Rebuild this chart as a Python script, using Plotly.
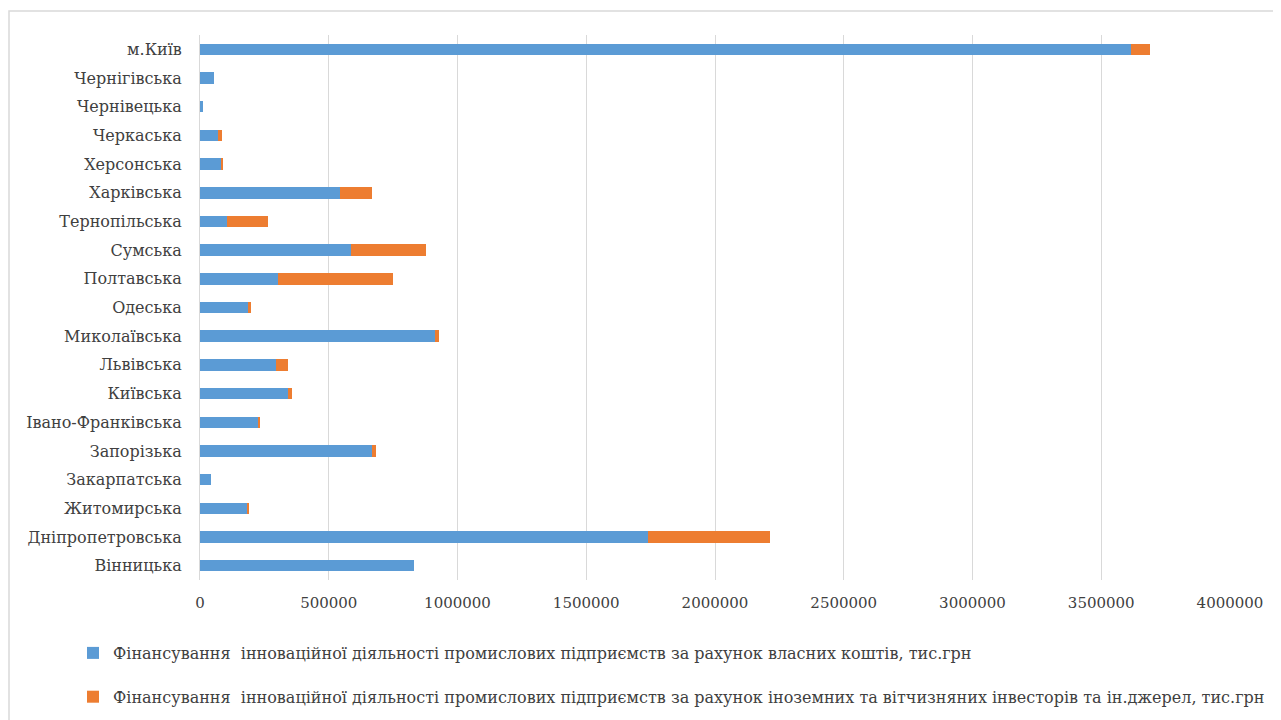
import plotly.graph_objects as go

regions = ["Вінницька", "Дніпропетровська", "Житомирська", "Закарпатська", "Запорізька",
           "Івано-Франківська", "Київська", "Львівська", "Миколаївська", "Одеська",
           "Полтавська", "Сумська", "Тернопільська", "Харківська", "Херсонська",
           "Черкаська", "Чернівецька", "Чернігівська", "м.Київ"]

own_funds = [831000, 1740000, 186000, 43000, 667000,
             229000, 341000, 295000, 911000, 186000,
             302000, 585000, 105000, 543000, 85000,
             70000, 12000, 54000, 3616000]

other_funds = [0, 473000, 4000, 0, 15000,
               4000, 15000, 46000, 19000, 12000,
               446000, 291000, 159000, 124000, 2000,
               16000, 0, 0, 74000]

name_own = "Фінансування  інноваційної діяльності промислових підприємств за рахунок власних коштів, тис.грн"
name_other = "Фінансування  інноваційної діяльності промислових підприємств за рахунок іноземних та вітчизняних інвесторів та ін.джерел, тис.грн"

x_ticks = [0, 500000, 1000000, 1500000, 2000000, 2500000, 3000000, 3500000, 4000000]

SERIF = "DejaVu Serif"

fig = go.Figure()
fig.add_trace(go.Bar(y=regions, x=own_funds, orientation="h", name=name_own,
                     marker=dict(color="#5B9BD5", line=dict(width=0)),
                     legendgroup="a", width=0.4))
fig.add_trace(go.Bar(y=regions, x=other_funds, orientation="h", name=name_other,
                     marker=dict(color="#ED7D31", line=dict(width=0)),
                     legendgroup="b", width=0.4))

# page offset (body margin) compensation
O = 8
SW, SH = 1281, 720
W, H = SW - O, SH - O
# desired plot area in screen px
PL, PR, PT, PB = 200, 1230, 35, 580
L, T = PL - O, PT - O
R, B = SW - PR, SH - PB
pw, ph = PR - PL, PB - PT

def px_x(p):
    return (p - PL) / pw

def px_y(p):
    return (PB - p) / ph

fig.update_layout(
    width=W, height=H,
    barmode="stack",
    plot_bgcolor="white", paper_bgcolor="white",
    margin=dict(l=L, r=R, t=T, b=B, autoexpand=False),
    font=dict(family=SERIF, color="#404040"),
    xaxis=dict(range=[0, 4000000], tickvals=x_ticks, tickformat="d",
               showgrid=True, gridcolor="#d9d9d9", gridwidth=1,
               zeroline=False, showline=False, ticks="",
               tickfont=dict(size=15, family=SERIF, color="#404040"),
               ticklabelstandoff=12),
    yaxis=dict(showgrid=False, showline=True, linecolor="#d9d9d9", linewidth=1,
               ticks="", tickfont=dict(size=16, family=SERIF, color="#404040"),
               ticklabelstandoff=14),
    showlegend=True,
    legend=dict(orientation="v", x=px_x(73), xanchor="left", y=px_y(636), yanchor="top",
                traceorder="grouped", tracegroupgap=20,
                font=dict(size=16, family=SERIF, color="#404040"),
                bgcolor="rgba(0,0,0,0)", itemwidth=30),
    shapes=[dict(type="rect", xref="paper", yref="paper",
                 x0=px_x(9), x1=px_x(1300), y0=px_y(740), y1=px_y(11),
                 line=dict(color="#d9d9d9", width=1.5), layer="below")],
)

fig.write_html("out.html")
